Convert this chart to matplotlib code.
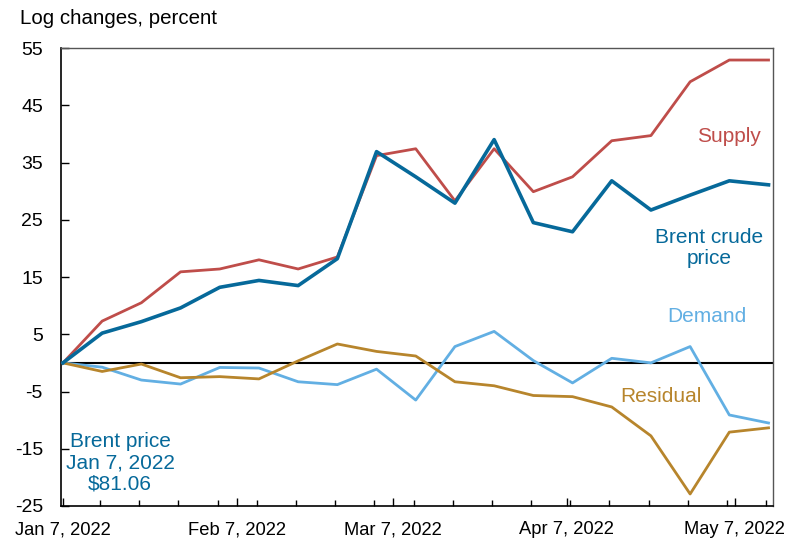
import matplotlib
matplotlib.use("Agg")
import matplotlib.pyplot as plt
import matplotlib.dates as mdates
import numpy as np
import datetime as dt

plt.rcParams['font.family'] = ['Liberation Sans', 'DejaVu Sans']
plt.rcParams['axes.unicode_minus'] = False

start = dt.date(2022, 1, 7)
dates = [start + dt.timedelta(days=7 * i) for i in range(19)]

supply = [0, 7.3, 10.5, 15.9, 16.4, 18.0, 16.4, 18.5, 36.2, 37.4, 28.3, 37.4, 29.9, 32.5, 38.8, 39.7, 49.1, 52.9, 52.9]
brent = [0, 5.2, 7.2, 9.6, 13.2, 14.4, 13.5, 18.2, 36.9, 32.5, 27.9, 39.0, 24.5, 22.9, 31.8, 26.7, 29.3, 31.8, 31.1]
demand = [0, -0.75, -3.0, -3.7, -0.8, -0.9, -3.3, -3.8, -1.1, -6.5, 2.85, 5.5, 0.4, -3.5, 0.8, 0.0, 2.85, -9.1, -10.5]
residual = [0, -1.5, -0.2, -2.6, -2.4, -2.8, 0.35, 3.3, 2.0, 1.2, -3.3, -4.0, -5.7, -5.9, -7.7, -12.75, -22.9, -12.1, -11.35]

yticks = [55, 45, 35, 25, 15, 5, -5, -15, -25]
major_dates = [dt.date(2022, 1, 7), dt.date(2022, 2, 7), dt.date(2022, 3, 7), dt.date(2022, 4, 7), dt.date(2022, 5, 7)]
major_labels = ["Jan 7, 2022", "Feb 7, 2022", "Mar 7, 2022", "Apr 7, 2022", "May 7, 2022"]

c_supply = "#BF4D4A"
c_brent = "#06699A"
c_demand = "#62AFE3"
c_resid = "#B7852C"

fig = plt.figure(figsize=(7.92, 5.38), dpi=100)
ax = fig.add_axes([61 / 792, 1 - 506 / 538, (773 - 61) / 792, (506 - 48) / 538])

ax.axhline(0, color="black", lw=1.5, zorder=1)
ax.plot(dates, supply, color=c_supply, lw=2.0, zorder=3)
ax.plot(dates, demand, color=c_demand, lw=2.0, zorder=3)
ax.plot(dates, residual, color=c_resid, lw=2.0, zorder=3)
ax.plot(dates, brent, color=c_brent, lw=2.6, zorder=4)

ax.set_ylim(-25, 55)
ax.set_yticks(yticks)
ax.set_xlim(mdates.date2num(dt.date(2022, 1, 7)) - 0.35, mdates.date2num(dt.date(2022, 5, 13)) + 0.8)
ax.set_xticks([mdates.date2num(d) for d in major_dates])
ax.set_xticklabels(major_labels)
minor = [mdates.date2num(start + dt.timedelta(days=7 * i)) - 0.4 for i in range(1, 19)]
ax.set_xticks(minor, minor=True)

ax.tick_params(axis='both', which='major', direction='in', length=6, width=1, colors='black')
ax.tick_params(axis='x', which='major', labelsize=13.2, pad=11)
ax.tick_params(axis='y', which='major', labelsize=14, pad=13)
ax.tick_params(axis='x', which='minor', direction='in', length=4, width=1)

for s in ['left', 'bottom']:
    ax.spines[s].set_color('black')
    ax.spines[s].set_linewidth(1.2)
for s in ['top', 'right']:
    ax.spines[s].set_color('#555555')
    ax.spines[s].set_linewidth(1.0)

fig.text(20 / 792, 1 - 18 / 538, "Log changes, percent", fontsize=14.8, ha='left', va='center')

def txt(x, y, s, c):
    ax.text(x / 792, 1 - y / 538, s, color=c, fontsize=15, ha='center', va='center',
            transform=fig.transFigure, linespacing=1.15)

txt(729, 137, "Supply", c_supply)
txt(709, 248, "Brent crude\nprice", c_brent)
txt(707, 316, "Demand", c_demand)
txt(661, 397, "Residual", c_resid)
txt(120, 463, "Brent price\nJan 7, 2022\n$81.06", c_brent)

fig.savefig("out.png", dpi=100)
